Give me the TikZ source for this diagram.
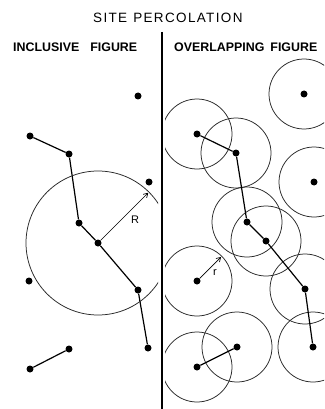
\documentclass[tikz,border=0pt]{standalone}
\usepackage{fontspec}
\setmainfont{Liberation Sans}
\usetikzlibrary{arrows.meta,calc}
\begin{document}
\begin{tikzpicture}[x=1pt,y=-1pt,
  site/.style={circle,fill=black,inner sep=0pt,minimum size=7pt},
  bond/.style={line width=1.2pt},
  ring/.style={line width=0.75pt,black!85},
  radius arrow/.style={line width=0.7pt,-{Straight Barb[length=4pt,width=5pt]}},
  titletext/.style={anchor=base west,inner sep=0pt,font=\fontsize{13.5}{14}\selectfont\addfontfeatures{LetterSpace=10}},
  headtext/.style={anchor=base west,inner sep=0pt,font=\fontsize{12.4}{13}\selectfont\bfseries},
  lbl/.style={inner sep=0pt,font=\fontsize{11}{12}\selectfont}]
\useasboundingbox (0,0) rectangle (324,409);

% texts
\node[titletext] (title) at (93,23) {SITE\hspace{6pt}PERCOLATION};
\node[headtext] (lefthead) at (13,52) {INCLUSIVE\hspace{11pt}FIGURE};
\node[headtext] (righthead) at (174,52) {OVERLAPPING\hspace{6pt}FIGURE};

% divider
\coordinate (divtop) at (162,32);
\coordinate (divbot) at (162,409);
\draw[line width=2pt] (divtop) -- (divbot);

% left sites
\node[site] (a1) at (30,136) {};
\node[site] (a2) at (69,154) {};
\node[site] (a3) at (79,223) {};
\node[site] (a4) at (98,243) {};
\node[site] (a5) at (138,290) {};
\node[site] (a6) at (148,348) {};
\node[site] (b1) at (138,96) {};
\node[site] (b2) at (149,182) {};
\node[site] (b3) at (29,281) {};
\node[site] (c1) at (69,349) {};
\node[site] (c2) at (30,369) {};

\draw[bond] (a1) -- (a2) -- (a3) -- (a4) -- (a5) -- (a6);
\draw[bond] (c1) -- (c2);

\begin{scope}
  \clip (0,0) rectangle (158,409);
  \draw[ring] (a4.center) circle[radius=72];
\end{scope}
\coordinate (Rend) at ($(a4.center)+(-45:71)$);
\draw[radius arrow] (a4) -- (Rend);
\node[lbl] (Rlabel) at (135,220) {R};

% right sites
\node[site] (p1) at (304,94) {};
\node[site] (p2) at (197,134) {};
\node[site] (p3) at (236,153) {};
\node[site] (p4) at (314,182) {};
\node[site] (p5) at (247,222) {};
\node[site] (p6) at (266,241) {};
\node[site] (p7) at (305,289) {};
\node[site] (p8) at (313,347) {};
\node[site] (p9) at (197,281) {};
\node[site] (p10) at (237,347) {};
\node[site] (p11) at (197,367) {};

\begin{scope}
  \clip (165,0) rectangle (324,409);
  \foreach \p in {p1,p2,p3,p4,p5,p6,p7,p8,p9,p10,p11}
    \draw[ring] (\p.center) circle[radius=35];
\end{scope}

\draw[bond] (p2) -- (p3) -- (p5) -- (p6) -- (p7) -- (p8);
\draw[bond] (p10) -- (p11);

\coordinate (rend) at ($(p9.center)+(-45:34)$);
\draw[radius arrow] (p9) -- (rend);
\node[lbl] (rlabel) at (215,273) {r};
\end{tikzpicture}
\end{document}
